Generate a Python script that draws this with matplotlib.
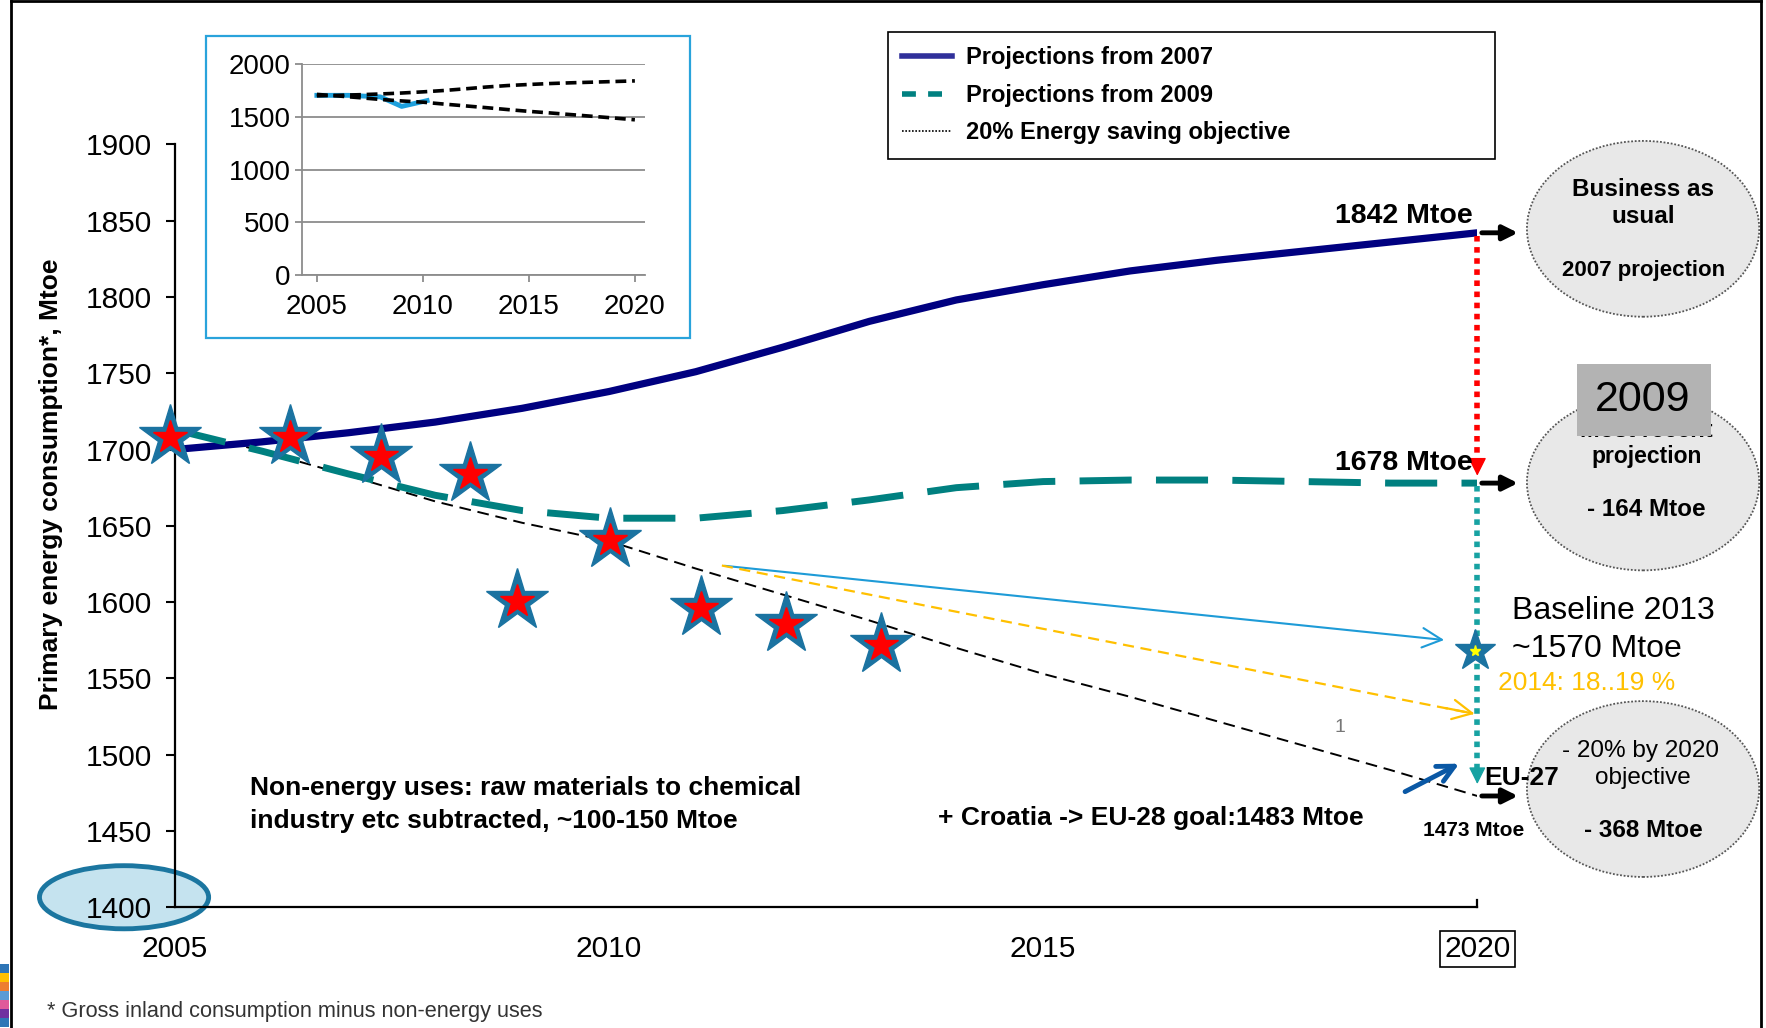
import matplotlib
matplotlib.use('Agg')
import matplotlib.pyplot as plt
from matplotlib.patches import Ellipse, Rectangle
from matplotlib.lines import Line2D

plt.rcParams['font.family'] = ['Liberation Sans', 'DejaVu Sans']

# data (Mtoe)
years = list(range(2005, 2021))
proj_2007 = [1700, 1705, 1711, 1718, 1727, 1738, 1751, 1767, 1784, 1798,
             1808, 1817, 1824, 1830, 1836, 1842]
proj_2009 = [1713, 1699, 1684, 1670, 1660, 1655, 1655, 1660, 1667, 1675,
             1679, 1680, 1680, 1679, 1678, 1678]
objective = [1714, 1699, 1683, 1666, 1652, 1640, 1622, 1605, 1588, 1570,
             1553, 1538, 1522, 1506, 1490, 1473]

star_x = [2004.94, 2006.33, 2007.38, 2008.40, 2008.94, 2010.01, 2011.06, 2012.04, 2013.13]
star_y = [1708, 1708, 1696, 1684, 1601, 1641, 1596, 1586, 1572]
baseline_x, baseline_y = 2019.97, 1568

# inset
inset_x = [2005, 2006.5, 2008, 2009, 2010.2]
inset_y = [1705, 1705, 1690, 1600, 1655]

xticks = [2005, 2010, 2015, 2020]
yticks = list(range(1400, 1901, 50))
inset_yticks = [0, 500, 1000, 1500, 2000]

# layout helpers, positions measured on a 1566 x 912 view of the reference
W, H = 1566.0, 912.0
def fx(x):
    return x / W
def fy(y):
    return 1 - y / H

fig = plt.figure(figsize=(17.66, 10.28), dpi=100)

ax = fig.add_axes([fx(155), fy(805), fx(1310) - fx(155), fy(128) - fy(805)])
ax.set_facecolor('none')
ax.set_xlim(2005, 2020)
ax.set_ylim(1400, 1900)

ax.plot(years, proj_2007, color='#000080', lw=5.2, solid_capstyle='butt', zorder=3)
ax.plot(years, proj_2009, color='#008080', lw=5, dashes=(7.5, 3.5), zorder=3)
ax.plot(years, objective, color='black', lw=1.4, dashes=(6, 3.5), zorder=2)

ax.plot(star_x, star_y, ls='none', marker='*', ms=47, color='#1b73a1', clip_on=False, zorder=4)
ax.plot(star_x, star_y, ls='none', marker='*', ms=25, color='#ff0000', clip_on=False, zorder=5)
ax.plot([baseline_x], [baseline_y], ls='none', marker='*', ms=31, color='#1b73a1', clip_on=False, zorder=4)
ax.plot([baseline_x], [baseline_y], ls='none', marker='*', ms=8, color='#ffff00', clip_on=False, zorder=5)

# vertical dotted arrows at 2020
ax.plot([2020, 2020], [1840, 1690], color='red', lw=4, ls=(0, (1, 1)), clip_on=False, zorder=4)
ax.annotate('', xy=(2020, 1681), xytext=(2020, 1692),
            arrowprops=dict(arrowstyle='-|>', color='red', lw=1, mutation_scale=28),
            annotation_clip=False, zorder=5)
ax.plot([2020, 2020], [1676, 1491], color='#17a2a2', lw=4, ls=(0, (1, 1)), clip_on=False, zorder=3)
ax.annotate('', xy=(2020, 1479), xytext=(2020, 1491),
            arrowprops=dict(arrowstyle='-|>', color='#17a2a2', lw=1, mutation_scale=26),
            annotation_clip=False, zorder=5)

# black arrows towards the ellipses
for v in [1842, 1678, 1473]:
    ax.annotate('', xy=(2020.5, v), xytext=(2020.02, v),
                arrowprops=dict(arrowstyle='-|>', color='black', lw=3.5, mutation_scale=22),
                annotation_clip=False, zorder=5)

# thin arrows from 2011
ax.annotate('', xy=(2019.65, 1575), xytext=(2011.3, 1624),
            arrowprops=dict(arrowstyle='->', color='#1e9bd7', lw=1.5, mutation_scale=35),
            annotation_clip=False, zorder=4)
ax.plot([2011.3, 2019.95], [1624, 1527], color='#ffc000', lw=1.6, ls=(0, (5, 3)), zorder=4)
ax.annotate('', xy=(2020, 1526.5), xytext=(2019.6, 1531),
            arrowprops=dict(arrowstyle='->', color='#ffc000', lw=1.6, mutation_scale=35),
            annotation_clip=False, zorder=4)
ax.annotate('', xy=(2019.82, 1495), xytext=(2019.14, 1475),
            arrowprops=dict(arrowstyle='->', color='#0a58a5', lw=3.5, mutation_scale=30),
            annotation_clip=False, zorder=5)

# axes styling
for s in ['top', 'right']:
    ax.spines[s].set_visible(False)
for s in ['left', 'bottom']:
    ax.spines[s].set_linewidth(1.6)
ax.set_xticks(xticks)
ax.set_yticks(yticks)
ax.tick_params(axis='x', length=0, pad=20, labelsize=21.5)
ax.tick_params(axis='y', length=6.5, width=1.5, pad=10, labelsize=21.5)
ax.plot([2020, 2020], [1400, 1405], color='black', lw=1.6, clip_on=False)
ax.get_xticklabels()[-1].set_bbox(dict(facecolor='white', edgecolor='black', pad=3, lw=1.2))

fig.text(fx(45), fy(430), 'Primary energy consumption*, Mtoe', rotation=90,
         ha='center', va='center', fontsize=19, fontweight='bold')

# legend
handles = [Line2D([], [], color='#30309a', lw=4),
           Line2D([], [], color='#008080', lw=4, dashes=(2.5, 2.2)),
           Line2D([], [], color='black', lw=1.2, ls=(0, (1, 1)))]
labels = ['Projections from 2007', 'Projections from 2009', '20% Energy saving objective']
leg = ax.legend(handles, labels, loc='upper left', mode='expand',
                bbox_to_anchor=(fx(787), fy(140), fx(1326) - fx(787), fy(28) - fy(140)),
                bbox_transform=fig.transFigure, prop={'weight': 'bold', 'size': 17},
                fancybox=False, edgecolor='black', framealpha=1, handlelength=2.1,
                labelspacing=0.62, borderpad=0.62, handletextpad=0.6, borderaxespad=0)
leg.get_frame().set_linewidth(1.2)

# inset chart
fig.add_artist(Rectangle((fx(183), fy(300)), fx(612) - fx(183), fy(32) - fy(300),
                         transform=fig.transFigure, facecolor='white',
                         edgecolor='#29a3db', lw=1.6, zorder=0.5))
ins = fig.add_axes([fx(268), fy(244), fx(572) - fx(268), fy(57) - fy(244)])
ins.set_facecolor('none')
ins.set_zorder(2)
ins.set_xlim(2004.31, 2020.48)
ins.set_ylim(0, 2000)
ins.set_yticks(inset_yticks)
ins.set_xticks(xticks)
ins.yaxis.grid(True, color='#8c8c8c', lw=1.3)
ins.set_axisbelow(True)
for s in ['top', 'right']:
    ins.spines[s].set_visible(False)
for s in ['left', 'bottom']:
    ins.spines[s].set_color('#8c8c8c')
    ins.spines[s].set_linewidth(1.3)
ins.tick_params(colors='#8c8c8c', labelcolor='black', labelsize=20, length=5, width=1.3)
ins.tick_params(axis='x', pad=9)
ins.plot(inset_x, inset_y, color='#1ea0dc', lw=3.5, zorder=3)
ins.plot(years, proj_2007, color='black', lw=2.6, dashes=(3, 1.6), zorder=4)
ins.plot(years, objective, color='black', lw=2.6, dashes=(3, 1.6), zorder=4)

# value labels
fig.text(fx(1245), fy(192), '1842 Mtoe', ha='center', va='center', fontsize=20.5, fontweight='bold')
fig.text(fx(1245), fy(411), '1678 Mtoe', ha='center', va='center', fontsize=20.5, fontweight='bold')
fig.text(fx(1341), fy(542), 'Baseline 2013', ha='left', va='center', fontsize=23)
fig.text(fx(1341), fy(576), '~1570 Mtoe', ha='left', va='center', fontsize=23)
fig.text(fx(1328), fy(606), '2014: 18..19 %', ha='left', va='center', fontsize=19, color='#ffc000')
fig.text(fx(1188), fy(645), '1', ha='center', va='center', fontsize=14, color='#777777')
fig.text(fx(1316), fy(690), 'EU-27', ha='left', va='center', fontsize=19, fontweight='bold', zorder=4)
fig.text(fx(1307), fy(737), '1473 Mtoe', ha='center', va='center', fontsize=15, fontweight='bold')
fig.text(fx(832), fy(726), '+ Croatia -> EU-28 goal:1483 Mtoe', ha='left', va='center',
         fontsize=19, fontweight='bold')
fig.text(fx(222), fy(699), 'Non-energy uses: raw materials to chemical', ha='left', va='center',
         fontsize=19, fontweight='bold')
fig.text(fx(222), fy(728), 'industry etc subtracted, ~100-150 Mtoe', ha='left', va='center',
         fontsize=19, fontweight='bold')
fig.text(fx(42), fy(897), '* Gross inland consumption minus non-energy uses', ha='left', va='center',
         fontsize=15.7, color='#333333')

# grey ellipses on the right
for cy in [203, 428, 700]:
    fig.add_artist(Ellipse((fx(1457), fy(cy)), fx(206), 156 / H, transform=fig.transFigure,
                           facecolor='#e8e8e8', edgecolor='#555555', lw=1.3, ls=(0, (1, 1)),
                           zorder=1))
fig.text(fx(1457), fy(168), 'Business as', ha='center', va='center', fontsize=17.5, fontweight='bold')
fig.text(fx(1457), fy(192), 'usual', ha='center', va='center', fontsize=17.5, fontweight='bold')
fig.text(fx(1457), fy(240), '2007 projection', ha='center', va='center', fontsize=16, fontweight='bold')

fig.text(fx(1460), fy(382), 'Most recent', ha='center', va='center', fontsize=17,
         fontweight='bold', zorder=2)
fig.add_artist(Rectangle((fx(1398), fy(387)), fx(1517) - fx(1398), fy(323) - fy(387),
                         transform=fig.transFigure, facecolor='#b3b3b3', edgecolor='none',
                         zorder=2.5))
fig.text(fx(1457), fy(355), '2009', ha='center', va='center', fontsize=31, zorder=3)
fig.text(fx(1460), fy(405), 'projection', ha='center', va='center', fontsize=16.5, fontweight='bold')
fig.text(fx(1460), fy(452), '- 164 Mtoe', ha='center', va='center', fontsize=17.5, fontweight='bold')

fig.text(fx(1455), fy(666), '- 20% by 2020', ha='center', va='center', fontsize=17.5)
fig.text(fx(1457), fy(690), 'objective', ha='center', va='center', fontsize=17.5)
fig.text(fx(1457), fy(737), '- 368 Mtoe', ha='center', va='center', fontsize=17.5, fontweight='bold')

# highlight round the 1400 tick, kept under the axes so the label stays on top
fig.add_artist(Ellipse((fx(110), fy(796)), fx(150), 56 / H, transform=fig.transFigure,
                       facecolor='#c5e3ef', edgecolor='#1b76a0', lw=3.5, zorder=-1))

# slide frame
fig.add_artist(Line2D([fx(10), fx(10)], [0, fy(1)], transform=fig.transFigure, color='black', lw=2))
fig.add_artist(Line2D([fx(1562), fx(1562)], [0, fy(1)], transform=fig.transFigure, color='black', lw=2))
fig.add_artist(Line2D([fx(10), fx(1562)], [fy(1), fy(1)], transform=fig.transFigure, color='black', lw=2))
strip_colors = ['#2e75b6', '#ffc000', '#ed7d31', '#5b9bd5', '#e05a9a', '#7030a0', '#2e75b6']
for i, c in enumerate(strip_colors):
    fig.add_artist(Rectangle((0, fy(855 + (i + 1) * 8)), fx(8), 8 / H,
                             transform=fig.transFigure, facecolor=c, edgecolor='none'))

fig.savefig('out.png', dpi=100)
